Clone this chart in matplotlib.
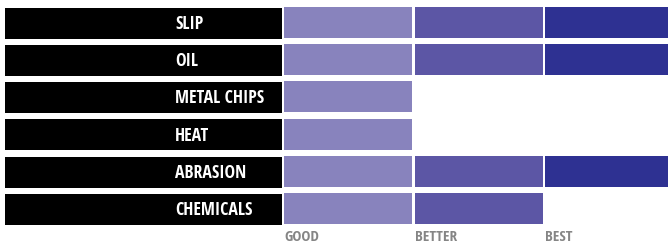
import matplotlib
matplotlib.use("Agg")
import matplotlib.pyplot as plt
from matplotlib import font_manager

# data
categories = ["SLIP", "OIL", "METAL CHIPS", "HEAT", "ABRASION", "CHEMICALS"]
ratings = [3, 3, 1, 1, 3, 2]          # 1 = good, 2 = better, 3 = best
level_labels = ["GOOD", "BETTER", "BEST"]
level_colors = ["#8883BD", "#5C56A5", "#2E3192"]

names = {f.name for f in font_manager.fontManager.ttflist}
narrow = "Open Sans Condensed" if "Open Sans Condensed" in names else "DejaVu Sans"

W, H = 668, 245
fig = plt.figure(figsize=(W / 100, H / 100), dpi=100)
ax = fig.add_axes([0, 0, 1, 1])
ax.set_xlim(0, W)
ax.set_ylim(H, 0)
ax.axis("off")

# layout (pixels)
row_top, row_pitch, row_h = 7, 37.2, 31
lab_left, lab_w = 5, 277
seg_left, seg_pitch, seg_w = 284, 130.5, 128

for i, (cat, r) in enumerate(zip(categories, ratings)):
    yc = row_top + i * row_pitch + row_h / 2
    ax.barh(yc + 0.7, lab_w, left=lab_left, height=row_h, color="black")
    ax.text(175, yc + 1.5, cat, color="white", fontsize=12.8, fontweight="bold",
            family=narrow, ha="left", va="center")
    for lv in range(r):
        ax.barh(yc, seg_w, left=seg_left + lv * seg_pitch, height=row_h,
                color=level_colors[lv])

for lv, lab in enumerate(level_labels):
    ax.text(seg_left + lv * seg_pitch, 237, lab, color="#858585", fontsize=11,
            fontweight="bold", family=narrow, ha="left", va="center")

fig.savefig("out.png", dpi=100)
